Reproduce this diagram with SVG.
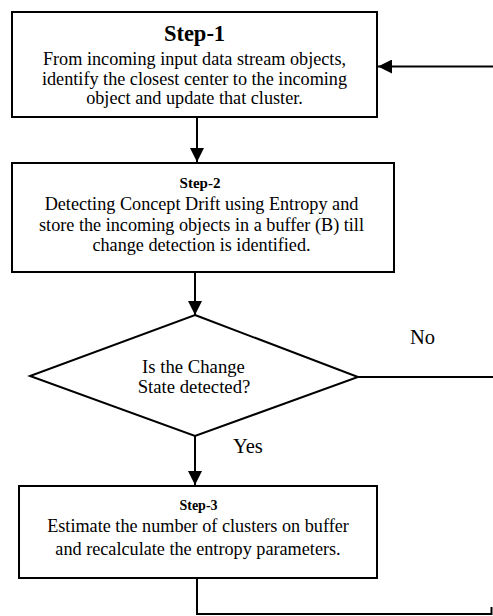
<svg xmlns="http://www.w3.org/2000/svg" width="493" height="616" viewBox="0 0 493 616">
  <style>
    .box { fill: #ffffff; stroke: #000000; stroke-width: 2; }
    .line { fill: none; stroke: #000000; stroke-width: 2; }
    text { font-family: "Liberation Serif", "Times New Roman", serif; fill: #000000; text-anchor: middle; }
    .title { font-weight: bold; }
    .body { font-size: 18.2px; }
    .dec { font-size: 18.7px; }
    .label { font-size: 20.5px; text-anchor: start; }
  </style>
  <defs>
    <marker id="arrow" markerWidth="14" markerHeight="14" refX="14" refY="7" orient="auto" markerUnits="userSpaceOnUse">
      <path d="M0,0 L14,7 L0,14 Z" fill="#000000"/>
    </marker>
  </defs>
  <rect width="493" height="616" fill="#ffffff"/>

  <g id="connectors">
    <line class="line" x1="197" y1="117" x2="197" y2="162" marker-end="url(#arrow)"/>
    <line class="line" x1="195" y1="272" x2="195" y2="315" marker-end="url(#arrow)"/>
    <line class="line" x1="195" y1="436" x2="195" y2="485" marker-end="url(#arrow)"/>
    <polyline class="line" points="197,578 197,614 492,614"/>
    <line class="line" x1="491.5" y1="607" x2="491.5" y2="615"/>
    <line class="line" x1="358" y1="377" x2="493" y2="377"/>
    <line class="line" x1="493" y1="66.5" x2="378" y2="66.5" marker-end="url(#arrow)"/>
    <text class="label" x="410" y="344">No</text>
    <text class="label" x="233" y="453">Yes</text>
  </g>

  <g id="step1">
    <rect class="box" x="12" y="12" width="365" height="105"/>
    <text class="title" x="194.5" y="40.5" font-size="22.5">Step-1</text>
    <text class="body" x="194.5" y="65">From incoming input data stream objects,</text>
    <text class="body" x="194.5" y="84.5">identify the closest center to the incoming</text>
    <text class="body" x="194.5" y="104">object and update that cluster.</text>
  </g>

  <g id="step2">
    <rect class="box" x="12" y="163" width="382" height="109"/>
    <text class="title" x="200" y="187.5" font-size="15">Step-2</text>
    <text class="body" x="201.5" y="210">Detecting Concept Drift using Entropy and</text>
    <text class="body" x="201.5" y="230.5">store the incoming objects in a buffer (B) till</text>
    <text class="body" x="201.5" y="250.5">change detection is identified.</text>
  </g>

  <g id="decision">
    <polygon class="box" points="195,315 358,377 195,436 30,376"/>
    <text class="dec" x="193.5" y="372.5">Is the Change</text>
    <text class="dec" x="194" y="392.5">State detected?</text>
  </g>

  <g id="step3">
    <rect class="box" x="19" y="486" width="358" height="92"/>
    <text class="title" x="198.5" y="510" font-size="14">Step-3</text>
    <text class="body" x="198" y="531.5">Estimate the number of clusters on buffer</text>
    <text class="body" x="198" y="555">and recalculate the entropy parameters.</text>
  </g>
</svg>
